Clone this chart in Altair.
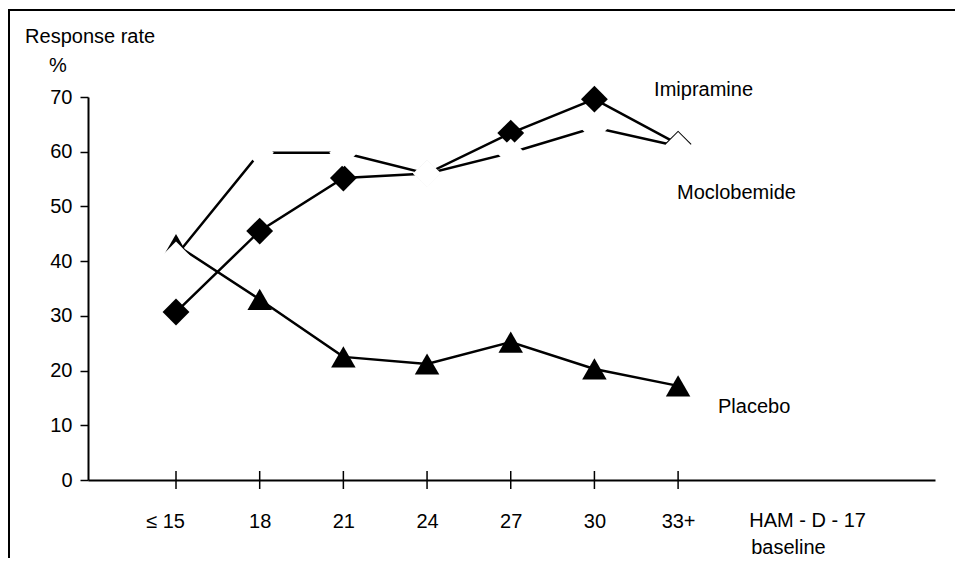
import altair as alt
import pandas as pd

# ---- data ----
x_vals = [15, 18, 21, 24, 27, 30, 33]
x_labels = ["≤ 15", "18", "21", "24", "27", "30", "33+"]
y_ticks = [0, 10, 20, 30, 40, 50, 60, 70]

series_names = ["Imipramine", "Moclobemide", "Placebo"]
imipramine = [30.7, 45.5, 55.2, 56.0, 63.4, 69.6, 61.4]
moclobemide = [41.0, 59.8, 59.8, 56.0, 59.8, 64.4, 61.0]
placebo = [43.0, 33.0, 22.5, 21.2, 25.2, 20.3, 17.2]

# annotation texts (left aligned) and their anchors in data units
ann_text = ["Imipramine", "Moclobemide", "Placebo", "HAM - D - 17", "baseline", "Response rate"]
ann_x = [32.14, 32.96, 34.43, 35.55, 35.62, 9.59]
ann_y = [70.2, 51.36, 12.25, -8.59, -13.53, 79.87]
pct_text = ["%"]
pct_x = [10.77]
pct_y = [74.57]

FONT = "Liberation Sans, Arial, sans-serif"

rows = []
for name, vals in zip(series_names, [imipramine, moclobemide, placebo]):
    for xv, yv in zip(x_vals, vals):
        rows.append({"series": name, "x": xv, "y": yv})
df = pd.DataFrame(rows)

label_expr = "datum.label"
for v, lab in reversed(list(zip(x_vals, x_labels))):
    label_expr = f"datum.value == {v} ? '{lab}' : ({label_expr})"

x_scale = alt.Scale(domain=[11.845, 42.21], nice=False, zero=False)
y_scale = alt.Scale(domain=[0, 70], nice=False, zero=True)

x_axis = alt.Axis(values=x_vals, labelExpr=label_expr, tickSize=0, labelPadding=31,
                  title=None, grid=False, domainWidth=2, domainColor="black",
                  labelFont=FONT, labelFontSize=20, labelColor="black",
                  labelOffset={"condition": {"test": "datum.value == 15", "value": -11}, "value": 0})
y_axis = alt.Axis(values=y_ticks, tickSize=8, labelPadding=8, title=None, grid=False,
                  domainWidth=2, domainColor="black", tickColor="black", tickWidth=1.5,
                  labelFont=FONT, labelFontSize=20, labelColor="black")

x_enc = alt.X("x:Q", scale=x_scale, axis=x_axis)
y_enc = alt.Y("y:Q", scale=y_scale, axis=y_axis)

base = alt.Chart(df)


def line(name):
    return base.transform_filter(alt.datum.series == name).mark_line(
        color="black", strokeWidth=2.5).encode(x=x_enc, y=y_enc)


def points(name, shape, size, color):
    return base.transform_filter(alt.datum.series == name).mark_point(
        shape=shape, size=size, filled=True, color=color, opacity=1).encode(x=x_enc, y=y_enc)


ticks = alt.Chart(pd.DataFrame({"x": x_vals})).mark_rule(
    color="black", strokeWidth=1.5).encode(x=x_enc, y=alt.datum(-1.645), y2=alt.datum(1.645))

ann = alt.Chart(pd.DataFrame({"text": ann_text, "x": ann_x, "y": ann_y})).mark_text(
    align="left", baseline="alphabetic", font=FONT, fontSize=20, color="black").encode(
    x=x_enc, y=y_enc, text="text:N")

pct = alt.Chart(pd.DataFrame({"text": pct_text, "x": pct_x, "y": pct_y})).mark_text(
    align="center", baseline="alphabetic", font=FONT, fontSize=20, color="black").encode(
    x=x_enc, y=y_enc, text="text:N")

frame_df = pd.DataFrame({"k": [0]})
frame_left = alt.Chart(frame_df).mark_rule(color="black", strokeWidth=2).encode(
    x=alt.value(-79), y=alt.value(-88), y2=alt.value(461))
frame_top = alt.Chart(frame_df).mark_rule(color="black", strokeWidth=2).encode(
    x=alt.value(-79), x2=alt.value(867), y=alt.value(-87))

chart = alt.layer(
    line("Placebo"),
    points("Placebo", "triangle-up", 600, "black"),
    line("Imipramine"),
    points("Imipramine", "diamond", 720, "black"),
    line("Moclobemide"),
    points("Moclobemide", "diamond", 800, "white"),
    ticks,
    ann,
    pct,
    frame_left,
    frame_top,
).properties(
    width=847,
    height=383,
    autosize=alt.AutoSizeParams(type="none"),
    padding={"left": 80, "top": 89, "right": 20, "bottom": 78},
    background="white",
).configure_view(strokeWidth=0)

chart.save("out.html", embed_options={"renderer": "svg", "actions": False})
